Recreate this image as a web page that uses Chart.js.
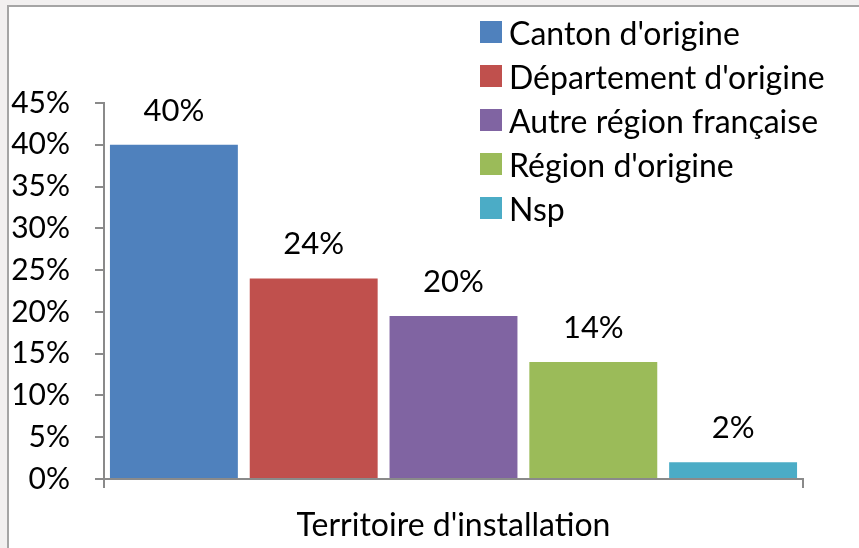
<!DOCTYPE html>
<html>
<head>
<meta charset="utf-8">
<script src="https://cdn.jsdelivr.net/npm/chart.js@4"></script>
<style>
  html, body { margin: 0; padding: 0; background: #f2f0f0; overflow: hidden; }
  #frame { position: absolute; left: 7px; top: 5px; width: 900px; height: 600px; background: #fff; border: 2px solid #a5a5a5; }
  #wrap { position: absolute; left: 0; top: 0; width: 859px; height: 548px; }
  #legend { position: absolute; left: 480px; top: 21px; font-family: Lato, sans-serif; font-size: 32px; color: #000; white-space: nowrap; }
  #legend .row { display: flex; align-items: center; height: 22px; margin-top: 22px; }
  #legend .row:first-child { margin-top: 0; }
  #legend .box { width: 22px; height: 22px; margin-right: 7px; flex: none; }
</style>
</head>
<body>
<div id="frame"></div>
<div id="wrap"><canvas id="chart"></canvas></div>
<div id="legend"></div>
<script>
// Territoire d'installation - répartition

const category = ["Territoire d'installation"];
const seriesNames = ["Canton d'origine", "Département d'origine", "Autre région française", "Région d'origine", "Nsp"];
const seriesValues = [40, 24, 19.5, 14, 2];
const seriesColors = ['#4F81BD', '#C0504D', '#8064A2', '#9BBB59', '#4BACC6'];
const yTicks = [0, 5, 10, 15, 20, 25, 30, 35, 40, 45];

const FONT = 'Lato, sans-serif';
const FSIZE = 32;
const AXIS = '#8a8a8a';

// legend (top right, drawn as html)
document.getElementById('legend').innerHTML = seriesNames.map((n, i) =>
  `<div class="row"><span class="box" style="background:${seriesColors[i]}"></span><span>${n}</span></div>`
).join('');

const valueLabels = {
  id: 'valueLabels',
  afterDatasetsDraw(chart){
    const ctx = chart.ctx;
    ctx.save();
    ctx.font = '31px ' + FONT;
    ctx.fillStyle = '#000';
    ctx.textAlign = 'center';
    ctx.textBaseline = 'alphabetic';
    chart.data.datasets.forEach((ds, i) => {
      const bar = chart.getDatasetMeta(i).data[0];
      ctx.fillText(Math.round(ds.data[0]) + '%', bar.x, bar.y - 24);
    });
    ctx.restore();
  }
};

new Chart(document.getElementById('chart').getContext('2d'), {
  type: 'bar',
  data: {
    labels: category,
    datasets: seriesNames.map((n, i) => ({
      label: n,
      data: [seriesValues[i]],
      backgroundColor: seriesColors[i],
      borderWidth: 0,
      categoryPercentage: 1,
      barPercentage: 0.915
    }))
  },
  options: {
    responsive: true,
    maintainAspectRatio: false,
    animation: false,
    layout: { padding: { top: 103, right: 56, left: 0, bottom: 0 } },
    plugins: { legend: { display: false }, tooltip: { enabled: false } },
    scales: {
      x: {
        grid: { display: true, drawOnChartArea: false, drawTicks: true, tickLength: 9, color: AXIS, lineWidth: 2, offset: true },
        border: { display: true, color: AXIS, width: 2 },
        ticks: { color: '#000', font: { family: FONT, size: FSIZE }, padding: 18 },
        afterFit: s => { s.height = 69; }
      },
      y: {
        min: 0, max: 45,
        afterBuildTicks: s => { s.ticks = yTicks.map(v => ({ value: v })); },
        grid: { display: true, drawOnChartArea: false, drawTicks: true, tickLength: 9, color: AXIS, lineWidth: 2 },
        border: { display: true, color: AXIS, width: 2 },
        ticks: { color: '#000', font: { family: FONT, size: 30 }, padding: 25, callback: v => v + '%' },
        afterFit: s => { s.width = 104; }
      }
    }
  },
  plugins: [valueLabels]
});
</script>
</body>
</html>
